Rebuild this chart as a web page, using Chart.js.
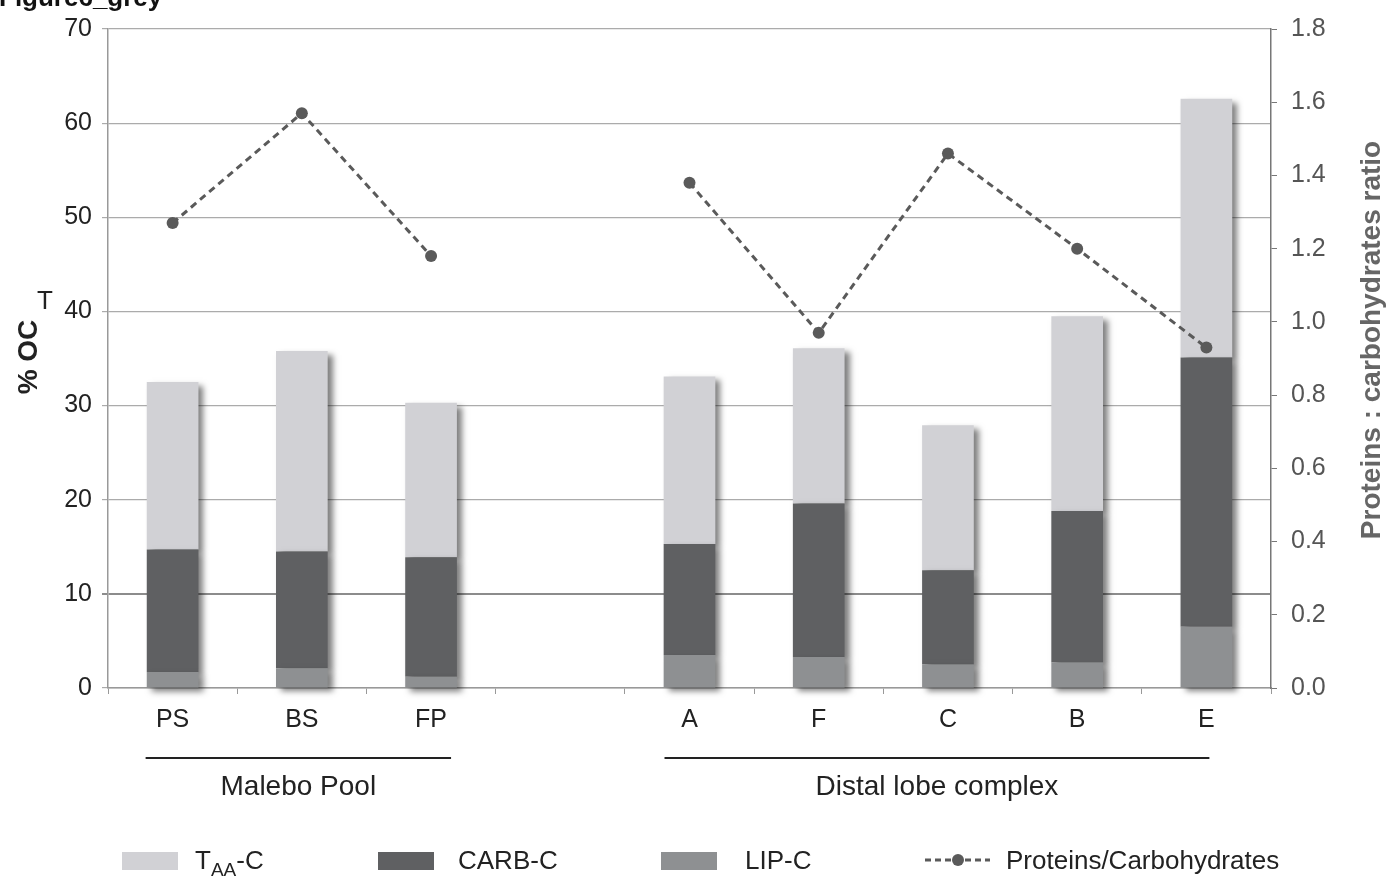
<!DOCTYPE html>
<html>
<head>
<meta charset="utf-8">
<title>Figure6_grey</title>
<script src="https://cdn.jsdelivr.net/npm/chart.js@4/dist/chart.umd.min.js"></script>
<style>
  body { margin: 0; background: #fff; font-family: "Liberation Sans", Arial, sans-serif; }
  #wrap { position: relative; width: 1388px; height: 880px; overflow: hidden; }
  canvas { position: absolute; left: 0; top: 0; }
  .legend-item { position: absolute; top: 845px; font-size: 26px; color: #222; line-height: 30px; white-space: nowrap; }
  .swatch { position: absolute; top: 852px; width: 56px; height: 18px; }
  .legend-item sub { font-size: 19px; vertical-align: -7px; }
</style>
</head>
<body>
<div id="wrap">
  <canvas id="chart" width="1388" height="880"></canvas>

  <!-- legend, built by hand because of the subscript -->
  <div class="swatch" style="left:122px;background:#d1d1d5"></div>
  <div class="legend-item" style="left:195px">T<sub>AA</sub>-C</div>
  <div class="swatch" style="left:378px;background:#5f6062"></div>
  <div class="legend-item" style="left:458px">CARB-C</div>
  <div class="swatch" style="left:661px;background:#8e9092"></div>
  <div class="legend-item" style="left:745px">LIP-C</div>
  <svg style="position:absolute;left:922px;top:850px" width="72" height="20">
    <line x1="3" y1="10" x2="68" y2="10" stroke="#5a5a5a" stroke-width="3" stroke-dasharray="6 4"/>
    <circle cx="36" cy="10" r="6" fill="#5a5a5a"/>
  </svg>
  <div class="legend-item" style="left:1006px">Proteins/Carbohydrates</div>
</div>

<script>
const stations = ["PS", "BS", "FP", "", "A", "F", "C", "B", "E"];
const taaC = [17.8, 21.3, 16.4, null, 17.8, 16.5, 15.4, 20.7, 27.5];
const carbC = [13.0, 12.4, 12.7, null, 11.8, 16.3, 10.0, 16.1, 28.6];
const lipC = [1.7, 2.1, 1.2, null, 3.5, 3.3, 2.5, 2.7, 6.5];
const protCarbRatio = [1.27, 1.57, 1.18, null, 1.38, 0.97, 1.46, 1.20, 0.93];

const leftMax = 70;
const rightMax = 1.8;

const groups = [
  { label: "Malebo Pool", from: "PS", to: "FP", padL: 27, padR: 20 },
  { label: "Distal lobe complex", from: "A", to: "E", padL: 25, padR: 3 }
];

const FONT = '"Liberation Sans", Arial, sans-serif';

/* drop shadow under the bars */
const barShadow = {
  id: "barShadow",
  beforeDatasetDraw(chart, args) {
    if (args.meta.type !== "bar") return;
    const ctx = chart.ctx;
    ctx.save();
    ctx.shadowColor = "rgba(0,0,0,0.5)";
    ctx.shadowBlur = 6;
    ctx.shadowOffsetX = 5;
    ctx.shadowOffsetY = 4;
  },
  afterDatasetDraw(chart, args) {
    if (args.meta.type !== "bar") return;
    chart.ctx.restore();
  }
};

/* axis titles, figure title, group brackets */
const extras = {
  id: "extras",
  afterDraw(chart) {
    const ctx = chart.ctx;
    const x = chart.scales.x;
    ctx.save();

    // figure name, cut off at the top
    ctx.fillStyle = "#111";
    ctx.font = "bold 26px " + FONT;
    ctx.textAlign = "left";
    ctx.textBaseline = "alphabetic";
    ctx.fillText("Figure6_grey", -1, 6);

    // left title
    ctx.save();
    ctx.translate(29, 357);
    ctx.rotate(-Math.PI / 2);
    ctx.textAlign = "center";
    ctx.textBaseline = "middle";
    ctx.font = "bold 28px " + FONT;
    ctx.fillStyle = "#222";
    ctx.fillText("% OC", 0, 0);
    ctx.restore();
    ctx.font = "26px " + FONT;
    ctx.fillStyle = "#222";
    ctx.textAlign = "center";
    ctx.textBaseline = "middle";
    ctx.fillText("T", 45, 302);

    // right title
    ctx.save();
    ctx.translate(1372, 340);
    ctx.rotate(-Math.PI / 2);
    ctx.font = "bold 28px " + FONT;
    ctx.fillStyle = "#666";
    ctx.fillText("Proteins : carbohydrates ratio", 0, 0);
    ctx.restore();

    // station groups
    groups.forEach(g => {
      const x0 = x.getPixelForValue(stations.indexOf(g.from)) - g.padL;
      const x1 = x.getPixelForValue(stations.indexOf(g.to)) + g.padR;
      ctx.strokeStyle = "#222";
      ctx.lineWidth = 2;
      ctx.beginPath();
      ctx.moveTo(x0, 758);
      ctx.lineTo(x1, 758);
      ctx.stroke();
      ctx.font = "28px " + FONT;
      ctx.fillStyle = "#222";
      ctx.fillText(g.label, (x0 + x1) / 2, 787);
    });

    ctx.restore();
  }
};

new Chart(document.getElementById("chart"), {
  data: {
    labels: stations,
    datasets: [
      {
        type: "line",
        label: "Proteins/Carbohydrates",
        data: protCarbRatio,
        yAxisID: "y1",
        order: 0,
        borderColor: "#5a5a5a",
        borderWidth: 3,
        borderDash: [7, 5],
        pointRadius: 6,
        pointBackgroundColor: "#5a5a5a",
        pointBorderWidth: 0,
        tension: 0
      },
      { type: "bar", label: "LIP-C", data: lipC, backgroundColor: "#8e9092", order: 1, clip: false },
      { type: "bar", label: "CARB-C", data: carbC, backgroundColor: "#5f6062", order: 1, clip: false },
      { type: "bar", label: "TAA-C", data: taaC, backgroundColor: "#d1d1d5", order: 1, clip: false }
    ]
  },
  options: {
    responsive: false,
    animation: false,
    layout: { padding: { top: 25 } },
    barPercentage: 0.4,
    categoryPercentage: 1,
    plugins: {
      legend: { display: false },
      tooltip: { enabled: false }
    },
    scales: {
      x: {
        stacked: true,
        offset: true,
        grid: {
          offset: true,
          drawOnChartArea: false,
          color: "#999",
          tickLength: 6
        },
        border: { color: "#999", width: 1.5 },
        ticks: {
          color: "#222",
          font: { family: FONT, size: 25 },
          padding: 11,
          maxRotation: 0
        },
        afterFit(scale) { scale.height = 192; }
      },
      y: {
        stacked: true,
        position: "left",
        min: 0,
        max: leftMax,
        grid: {
          color: ctx => ctx.tick && ctx.tick.value === 10 ? "#8c8c8c" : "#ababab",
          lineWidth: ctx => ctx.tick && ctx.tick.value === 10 ? 2 : 1.2,
          tickLength: 6
        },
        border: { color: "#999", width: 1.5 },
        ticks: {
          stepSize: 10,
          color: "#222",
          font: { family: FONT, size: 25 },
          padding: 10
        },
        afterFit(scale) { scale.width = 108; }
      },
      y1: {
        position: "right",
        min: 0,
        max: rightMax,
        grid: { drawOnChartArea: false, color: "#777", tickLength: 6 },
        border: { color: "#777", width: 1.5 },
        ticks: {
          stepSize: 0.2,
          color: "#555",
          font: { family: FONT, size: 25 },
          padding: 14,
          callback: v => v.toFixed(1)
        },
        afterFit(scale) { scale.width = 117; }
      }
    }
  },
  plugins: [barShadow, extras]
});
</script>
</body>
</html>
